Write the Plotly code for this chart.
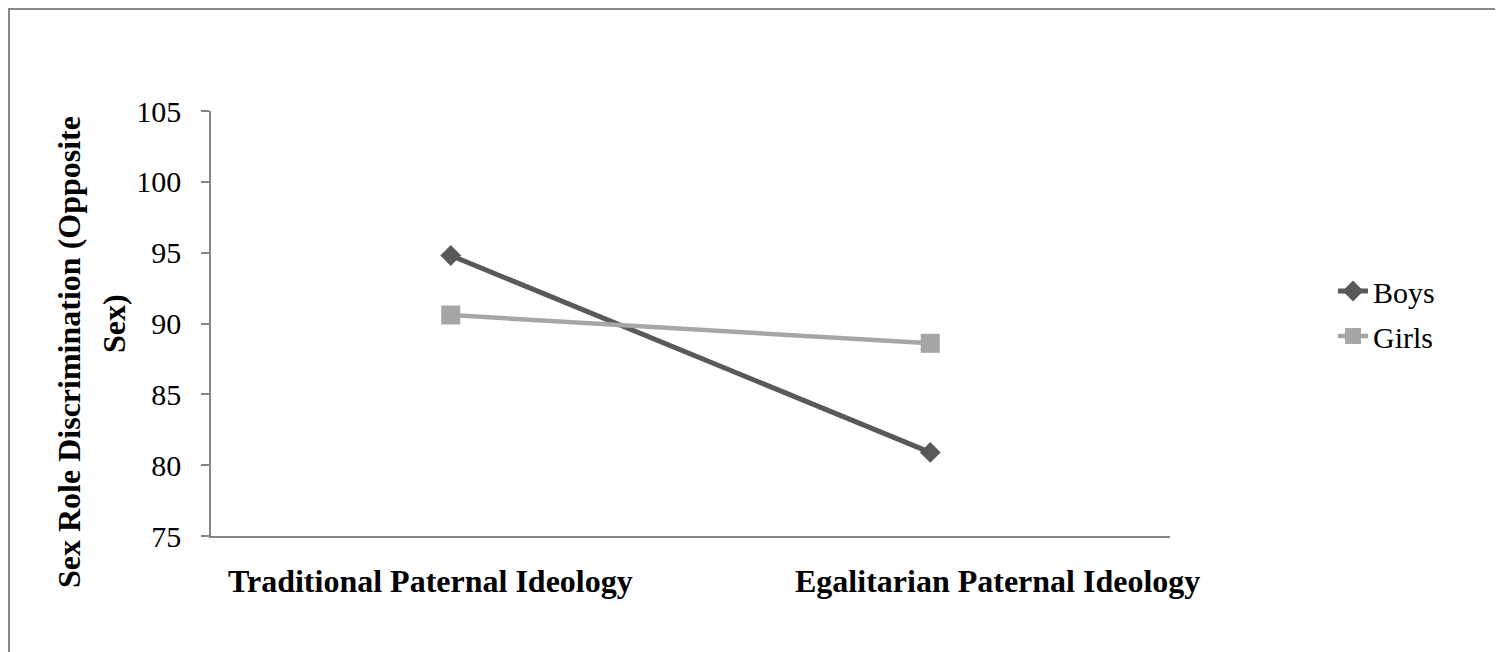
import plotly.graph_objects as go

categories = ["Traditional Paternal Ideology", "Egalitarian Paternal Ideology"]
boys = [94.8, 80.9]
girls = [90.6, 88.6]
y_ticks = [75, 80, 85, 90, 95, 100, 105]
y_title_lines = ["Sex Role Discrimination (Opposite", "Sex)"]

W, H = 1503, 652
L, R, T, B = 203, 341, 103, 124
pw, ph = W - L - R, H - T - B

def px_x(p):
    return (p - L) / pw

def px_y(p):
    return (H - B - p) / ph

fig = go.Figure()
fig.add_trace(go.Scatter(x=categories, y=boys, name="Boys", mode="lines+markers",
                         legendgroup="a",
                         line=dict(color="#595959", width=5),
                         marker=dict(symbol="diamond", size=16, color="#595959")))
fig.add_trace(go.Scatter(x=categories, y=girls, name="Girls", mode="lines+markers",
                         legendgroup="b",
                         line=dict(color="#a6a6a6", width=4.5),
                         marker=dict(symbol="square", size=19, color="#a6a6a6")))

annotations = []
# category labels (positions as in the reference)
label_centers = [422, 989]
for txt, cx in zip(categories, label_centers):
    annotations.append(dict(text="<b>" + txt + "</b>", xref="paper", yref="paper",
                            x=px_x(cx), y=px_y(573), xanchor="center", yanchor="middle",
                            showarrow=False, font=dict(size=32)))
# y-axis title lines
title_pos = [(61, 344), (106, 316)]
for txt, (cx, cy) in zip(y_title_lines, title_pos):
    annotations.append(dict(text="<b>" + txt + "</b>", xref="paper", yref="paper",
                            x=px_x(cx), y=px_y(cy), xanchor="center", yanchor="middle",
                            textangle=-90, showarrow=False, font=dict(size=32)))

fig.update_layout(
    width=W, height=H,
    margin=dict(l=L, r=R, t=T, b=B, autoexpand=False),
    paper_bgcolor="white", plot_bgcolor="white",
    font=dict(family="Liberation Serif, Times New Roman, serif", color="black"),
    showlegend=True,
    legend=dict(x=px_x(1325), y=px_y(257), xanchor="left", yanchor="top",
                font=dict(size=30), traceorder="grouped", tracegroupgap=3),
    xaxis=dict(type="category", range=[-0.5, 1.5], showline=True, linecolor="#868686",
               linewidth=1.5, showgrid=False, zeroline=False, ticks="",
               showticklabels=False),
    yaxis=dict(range=[75, 105], tickvals=y_ticks, showline=True, linecolor="#868686",
               linewidth=1.5, showgrid=False, zeroline=False, ticks="outside",
               ticklen=8, tickcolor="#868686", tickwidth=1.5,
               tickfont=dict(size=30), ticklabelstandoff=14),
    annotations=annotations,
    shapes=[
        dict(type="line", xref="paper", yref="paper", x0=px_x(1), x1=px_x(1),
             y0=px_y(1), y1=px_y(700), line=dict(color="#888888", width=2)),
        dict(type="line", xref="paper", yref="paper", x0=px_x(0), x1=px_x(1560),
             y0=px_y(1), y1=px_y(1), line=dict(color="#888888", width=2)),
    ],
)

fig.write_html("out.html")
